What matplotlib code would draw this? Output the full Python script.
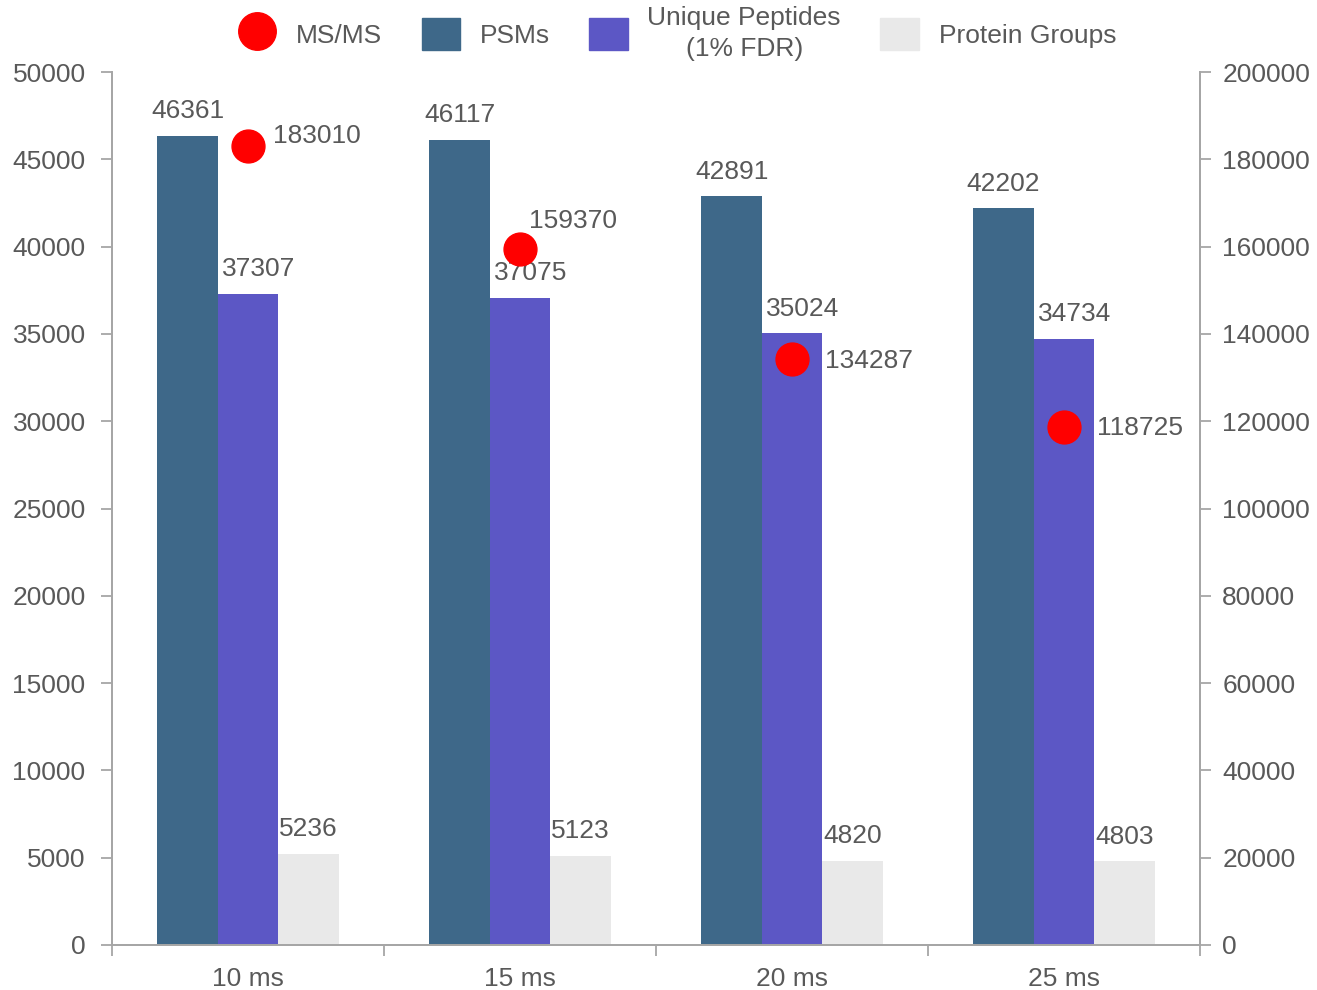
import numpy as np
import matplotlib.pyplot as plt
from matplotlib.lines import Line2D
from matplotlib.patches import Patch

plt.rcParams['font.family'] = ['Liberation Sans', 'DejaVu Sans']

# data
categories = ['10 ms', '15 ms', '20 ms', '25 ms']
psms = [46361, 46117, 42891, 42202]
unique_peptides = [37307, 37075, 35024, 34734]
protein_groups = [5236, 5123, 4820, 4803]
msms = [183010, 159370, 134287, 118725]

# label offsets for the MS/MS points (pixels)
msms_offsets = [(25, 10), (9, 28), (33, -2), (33, -1)]

c_psm = '#3e6889'
c_pep = '#5c57c5'
c_prot = '#e9e9e9'
c_text = '#595959'
c_axis = '#a6a6a6'
fs = 19
px = 0.72  # points per pixel at dpi 100

fig = plt.figure(figsize=(13.17, 9.9), dpi=100)
ax = fig.add_axes([112 / 1317, 45 / 990, 1088 / 1317, 873 / 990])
ax2 = ax.twinx()

x = np.arange(len(categories))
w = 0.222

b1 = ax.bar(x - w, psms, w, color=c_psm)
b2 = ax.bar(x, unique_peptides, w, color=c_pep)
b3 = ax.bar(x + w, protein_groups, w, color=c_prot)
ax.bar_label(b1, padding=9, fontsize=fs, color=c_text)
ax.bar_label(b3, padding=9, fontsize=fs, color=c_text)
for xi, v in zip(x, unique_peptides):
    ax.annotate(str(v), (xi, v), xytext=(11 * px, 9), textcoords='offset points',
                fontsize=fs, color=c_text, ha='center', va='bottom')

ax2.scatter(x, msms, s=560, color='#ff0000', zorder=5)
for xi, v, (dx, dy) in zip(x, msms, msms_offsets):
    ax2.annotate(str(v), (xi, v), xytext=(dx * px, dy * px), textcoords='offset points',
                 fontsize=fs, color=c_text, va='center', ha='left')

ax.set_xlim(-0.5, 3.5)
ax.set_ylim(0, 50000)
ax2.set_ylim(0, 200000)
ax.set_yticks(np.arange(0, 50001, 5000))
ax2.set_yticks(np.arange(0, 200001, 20000))

ax.set_xticks(x)
ax.set_xticklabels(categories)
ax.set_xticks(np.arange(-0.5, 4, 1), minor=True)
ax.tick_params(axis='x', which='major', length=0, pad=16, labelsize=fs, labelcolor=c_text)
ax.tick_params(axis='x', which='minor', length=8, color=c_axis, width=1.3)
ax.tick_params(axis='y', length=8, color=c_axis, width=1.3, labelsize=fs, labelcolor=c_text, pad=11)
ax2.tick_params(axis='y', length=8, color=c_axis, width=1.3, labelsize=fs, labelcolor=c_text, pad=8)

for a in (ax, ax2):
    a.spines['top'].set_visible(False)
    for s in ('left', 'right', 'bottom'):
        a.spines[s].set_color(c_axis)
        a.spines[s].set_linewidth(1.3)

handles = [
    Line2D([], [], marker='o', linestyle='none', color='#ff0000', markersize=27),
    Patch(color=c_psm),
    Patch(color=c_pep),
    Patch(color=c_prot),
]
labels = ['MS/MS', 'PSMs', 'Unique Peptides\n(1% FDR)', 'Protein Groups']
leg = fig.legend(handles, labels, loc='upper center', bbox_to_anchor=(0.514, 1.018),
                 ncol=4, frameon=False, fontsize=fs, handlelength=1.45, handleheight=1.45,
                 columnspacing=1.5, handletextpad=0.75, labelcolor=c_text)
for t in leg.get_texts():
    t.set_multialignment('center')
    t.set_linespacing(1.35)

fig.savefig('out.png', dpi=100)
